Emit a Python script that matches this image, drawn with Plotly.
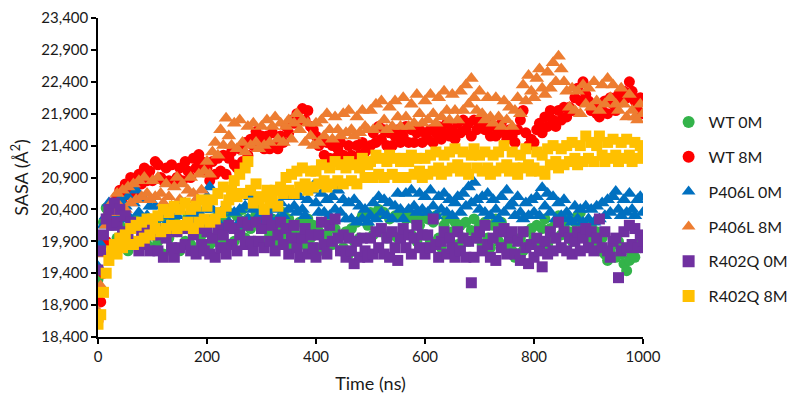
import plotly.graph_objects as go

time_ns = [i * 5 for i in range(201)]

wt_0m = [
    19300, 19850, 20200, 20420, 20350, 20150, 20300, 19950, 20150, 19850, 20050, 19750, 20100, 19900, 20250, 19800, 20050, 20200, 19850, 20100,
    19800, 20200, 19900, 20100, 19700, 20250, 19950, 19800, 20200, 20050, 19750, 20150, 19900, 20300, 19850, 20050, 19750, 20150, 20000, 19800,
    20050, 19850, 20250, 19900, 20300, 19950, 20200, 19850, 20350, 20100, 19900, 20300, 20050, 20400, 19950, 20250, 20100, 19900, 20350, 20400,
    20150, 19900, 20350, 20000, 20250, 19850, 20150, 19950, 20350, 20050, 20250, 19850, 20100, 19800, 20200, 20000, 19850, 20250, 19950, 20150,
    19800, 20050, 20200, 19750, 20000, 20200, 19850, 20100, 19950, 19750, 19800, 20050, 19700, 20100, 19900, 20200, 19950, 20300, 20350, 20150,
    20350, 20000, 20300, 20400, 20050, 20350, 19950, 20250, 20000, 20300, 19950, 20350, 20050, 20250, 20350, 20000, 20250, 19900, 20150, 20300,
    20000, 20250, 19900, 20200, 20300, 19950, 19800, 20150, 20250, 19950, 20050, 20200, 19850, 20150, 19950, 20200, 19900, 20070, 20250, 19950,
    20150, 19850, 20200, 19950, 19800, 20150, 20250, 19900, 20200, 20050, 19850, 20000, 19750, 19650, 19700, 19950, 19750, 20050, 19850, 20100,
    19950, 20150, 19800, 20100, 20250, 19850, 20100, 19950, 20200, 20300, 20000, 20150, 20250, 20050, 19900, 20200, 20300, 20350, 20150, 20050,
    19950, 20150, 19850, 20050, 19750, 19950, 19700, 19600, 19750, 19850, 19650, 19900, 19700, 19550, 19440, 19600, 19700, 19650, 19850, 19800,
    19900,
]

wt_8m = [
    18650, 18950, 19400, 19900, 20300, 20450, 20350, 20600, 20700, 20500, 20800, 20650, 20900, 20750, 20650, 20950, 20800, 21050, 20850, 21000,
    20850, 21150, 21100, 20900, 20850, 21050, 20850, 21100, 20800, 20900, 21050, 20850, 21150, 21000, 20900, 21200, 21050, 21260, 21150, 21000,
    21050, 20850, 21150, 20950, 21200, 21000, 21250, 20950, 21200, 21300, 21100, 21050, 21350, 21150, 21450, 21250, 21500, 21400, 21620, 21450,
    21550, 21350, 21550, 21350, 21600, 21400, 21350, 21550, 21450, 21700, 21600, 21800, 21750, 21900, 21800, 21980, 21800, 21950, 21700, 21650,
    21550, 21400, 21500, 21250, 21450, 21200, 21400, 21200, 21350, 21450, 21250, 21200, 21400, 21250, 21150, 21400, 21250, 21450, 21300, 21350,
    21400, 21600, 21450, 21700, 21500, 21650, 21400, 21600, 21400, 21550, 21650, 21450, 21550, 21700, 21450, 21650, 21450, 21600, 21650, 21450,
    21600, 21500, 21650, 21450, 21600, 21700, 21500, 21600, 21750, 21550, 21650, 21500, 21750, 21600, 21800, 21650, 21750, 21550, 21800, 21650,
    21700, 21800, 21650, 21750, 21550, 21700, 21550, 21650, 21750, 21600, 21500, 21650, 21550, 21450, 21650, 21800, 21950, 21600, 21400, 21500,
    21450, 21650, 21750, 21600, 21850, 21700, 21950, 21800, 21700, 21950, 21800, 22000, 21850, 22000, 21950, 22150, 22300, 22100, 22400, 22200,
    22100, 21950, 22050, 21900, 21850, 21950, 22100, 21900, 22150, 22050, 21950, 22200, 22100, 22250, 22150, 22400, 22250, 22100, 21950, 22150,
    21900,
]

p406l_0m = [
    19500, 19850, 20150, 20300, 20500, 20350, 20450, 20300, 20550, 20250, 20450, 20600, 20250, 20500, 20700, 20350, 20250, 20550, 20300, 20450,
    20200, 20450, 20250, 20100, 20350, 20150, 20300, 20200, 20050, 20300, 20150, 20500, 20200, 20100, 20300, 20100, 20250, 20350, 20150, 20400,
    20600, 20750, 20400, 20250, 20200, 20350, 20100, 20400, 20200, 20100, 20350, 20150, 20400, 20200, 20450, 20250, 20600, 20400, 20200, 20300,
    20250, 20150, 20350, 20450, 20200, 20400, 20250, 20500, 20300, 20600, 20400, 20650, 20450, 20350, 20600, 20400, 20300, 20550, 20700, 20770,
    20500, 20350, 20650, 20350, 20550, 20300, 20600, 20400, 20700, 20350, 20550, 20250, 20500, 20250, 20550, 20200, 20450, 20250, 20400, 20200,
    20300, 20500, 20250, 20600, 20350, 20550, 20300, 20500, 20250, 20450, 20650, 20400, 20250, 20650, 20400, 20700, 20450, 20350, 20650, 20400,
    20600, 20350, 20700, 20450, 20300, 20600, 20400, 20650, 20350, 20550, 20300, 20500, 20600, 20350, 20650, 20450, 20750, 20500, 20820, 20550,
    20400, 20600, 20350, 20650, 20300, 20550, 20400, 20250, 20600, 20350, 20700, 20450, 20500, 20300, 20600, 20350, 20250, 20500, 20300, 20550,
    20350, 20600, 20300, 20740, 20450, 20650, 20350, 20600, 20250, 20500, 20300, 20550, 20350, 20250, 20200, 20450, 20250, 20400, 20200, 20450,
    20250, 20400, 20200, 20450, 20250, 20500, 20300, 20550, 20350, 20600, 20680, 20400, 20300, 20550, 20350, 20650, 20400, 20300, 20550, 20600,
    20350,
]

p406l_8m = [
    18800, 19200, 19700, 20150, 20350, 20500, 20350, 20650, 20450, 20700, 20400, 20750, 20500, 20800, 20550, 20850, 20600, 20900, 20650, 20550,
    20850, 20600, 20900, 20650, 20500, 20800, 20600, 20450, 20750, 20900, 20550, 20800, 20500, 20700, 20900, 20650, 20550, 20950, 20700, 21000,
    21150, 20950, 21300, 21450, 21250, 21650, 21400, 21830, 21550, 21400, 21750, 21350, 21800, 21450, 21300, 21700, 21400, 21750, 21450, 21350,
    21700, 21400, 21800, 21450, 21700, 21850, 21500, 21750, 21450, 21700, 21800, 21500, 21750, 21900, 21650, 21800, 21450, 21750, 21550, 21400,
    21750, 21450, 21800, 21550, 21900, 21650, 21500, 21850, 21650, 21550, 21900, 21600, 21950, 21650, 21550, 21850, 21600, 21950, 21700, 21650,
    21950, 21650, 22050, 21700, 22100, 21800, 21650, 22000, 21700, 22100, 21850, 21700, 22150, 21850, 21700, 22050, 21750, 22200, 21900, 21750,
    22100, 21800, 22200, 21900, 21750, 22150, 21850, 22250, 21950, 21800, 22200, 21950, 21800, 22250, 21950, 22350, 22050, 22450, 22150, 21950,
    22250, 21900, 21800, 22150, 21850, 21750, 22150, 21850, 21700, 22100, 21800, 22000, 21700, 21950, 22150, 21900, 22350, 22100, 22500, 22250,
    22150, 22450, 22600, 22300, 22200, 22550, 22300, 22700, 22400, 22800, 22600, 22400, 22250, 22000, 22300, 21950, 22250, 21900, 22350, 22050,
    22300, 22000, 22400, 22100, 21950, 22350, 22050, 22450, 22150, 22350, 22050, 21950, 22300, 22050, 21850, 22200, 21950, 21850, 21800, 22050,
    21900,
]

r402q_0m = [
    19450, 19750, 20000, 20250, 20400, 20150, 20500, 20200, 20400, 20050, 20300, 19950, 20200, 19850, 20150, 19750, 20050, 19850, 20100, 19750,
    20000, 20100, 19750, 20000, 19650, 19950, 20100, 19800, 19650, 20050, 19800, 20100, 19850, 20150, 19750, 20000, 19700, 20100, 19850, 19750,
    20050, 19700, 19950, 19650, 20100, 19800, 20000, 19700, 20150, 19850, 20100, 19750, 20000, 20200, 19850, 20150, 19900, 19750, 20200, 19900,
    20100, 19800, 20250, 19900, 20150, 19750, 20000, 20200, 19850, 20100, 19700, 19950, 20150, 19800, 19650, 19950, 20100, 19700, 20000, 19800,
    19650, 20000, 20200, 19850, 19700, 20150, 19900, 20250, 19950, 19750, 20000, 19650, 19950, 19750, 19550, 19900, 19650, 19950, 19750, 19650,
    19950, 19700, 20050, 19800, 20100, 19700, 19950, 19650, 20050, 19800, 19600, 19950, 20100, 19800, 20000, 19700, 19950, 20150, 19800, 20000,
    19700, 20000, 19800, 20250, 19850, 19650, 19900, 20050, 19700, 19950, 19800, 19650, 20050, 19750, 19950, 19650, 19900, 19250, 19650, 19950,
    20050, 19750, 20150, 19850, 19650, 19950, 19600, 20050, 19800, 20100, 19700, 19950, 20050, 19700, 19900, 19600, 20050, 19800, 19550, 19850,
    19650, 19950, 19750, 19500, 19900, 19700, 20050, 19750, 19950, 20200, 19800, 20050, 19750, 19950, 19700, 19900, 20050, 19750, 19950, 20100,
    19800, 20050, 19750, 19950, 20250, 19800, 20050, 19750, 19650, 19900, 19950, 19330, 19750, 20050, 19800, 20150, 19850, 20100, 19800, 20000,
    19900,
]

r402q_8m = [
    18600, 18750, 19100, 19400, 19600, 19750, 19850, 19700, 19950, 19800, 20000, 19850, 20100, 19850, 20150, 19900, 20200, 19950, 20250, 20000,
    20250, 20100, 20300, 20050, 20400, 20100, 20350, 20150, 20450, 20100, 20400, 20150, 20500, 20200, 20400, 20100, 20450, 20200, 20550, 20250,
    20450, 20200, 20550, 20250, 20650, 20350, 20750, 20450, 20550, 20700, 20850, 20600, 20950, 20650, 21050, 21150, 20700, 20500, 20800, 20550,
    20600, 20400, 20700, 20500, 20550, 20700, 20450, 20750, 20650, 20900, 20700, 20950, 20650, 21000, 20750, 21050, 20800, 20700, 21000, 20750,
    21000, 20800, 21100, 20850, 20750, 21050, 20800, 21150, 20850, 21100, 20800, 21050, 21150, 20850, 21100, 20800, 21050, 21200, 20900, 21100,
    21150, 20900, 21250, 20950, 21200, 20900, 21150, 21250, 20950, 21200, 20900, 21150, 21200, 20900, 21150, 21250, 20950, 21200, 21000, 20900,
    21200, 20950, 21250, 21000, 21300, 21050, 20950, 21250, 21000, 21300, 21050, 21350, 21100, 21000, 21300, 21050, 20950, 21250, 21350, 21050,
    21250, 21000, 21300, 21050, 20950, 21250, 21000, 21300, 21050, 21400, 21100, 21000, 21300, 21050, 20950, 21250, 21050, 21350, 21100, 21000,
    21050, 21300, 21000, 21250, 20950, 21350, 21100, 21400, 21150, 21050, 21350, 21100, 21400, 21150, 21450, 21200, 21100, 21400, 21150, 21550,
    21200, 21450, 21150, 21400, 21550, 21250, 21150, 21450, 21200, 21500, 21250, 21150, 21450, 21200, 21500, 21250, 21150, 21450, 21200, 21400,
    21250,
]

series_names = ["WT 0M", "WT 8M", "P406L 0M", "P406L 8M", "R402Q 0M", "R402Q 8M"]
series_values = [wt_0m, wt_8m, p406l_0m, p406l_8m, r402q_0m, r402q_8m]
colors = ["#33B34A", "#FF0000", "#0070C0", "#ED7D31", "#7030A0", "#FFC000"]
symbols = ["circle", "circle", "triangle-up", "triangle-up", "square", "square"]
sizes = [11, 11, 13, 13, 11, 11]

fig = go.Figure()
for i, (name, vals) in enumerate(zip(series_names, series_values)):
    fig.add_trace(go.Scatter(
        x=time_ns, y=vals, mode="markers", name=name, legendgroup=name,
        marker=dict(color=colors[i], symbol=symbols[i], size=sizes[i], line=dict(width=0)),
    ))

font_family = "Lato, Liberation Sans, sans-serif"
fig.update_layout(
    width=787, height=400,
    margin=dict(l=90, r=152, t=10, b=71, autoexpand=False),
    paper_bgcolor="white", plot_bgcolor="white",
    font=dict(family=font_family, color="#1a1a1a", size=15),
    showlegend=True,
    legend=dict(
        x=1.047, y=0.727, xanchor="left", yanchor="top",
        font=dict(size=16, family=font_family, color="#1a1a1a"),
        tracegroupgap=11, itemsizing="constant", bgcolor="rgba(0,0,0,0)",
    ),
)
fig.update_xaxes(
    range=[0, 1000], tickvals=[0, 200, 400, 600, 800, 1000],
    showgrid=False, zeroline=False, showline=True, linecolor="#000", linewidth=1.5,
    ticks="outside", ticklen=5, tickcolor="#000", tickwidth=1.5,
    tickfont=dict(size=15), ticklabeloverflow="allow",
    title=dict(text="Time (ns)", font=dict(size=18), standoff=14),
)
fig.update_yaxes(
    range=[18400, 23400], dtick=500, tick0=18400, tickformat=",",
    showgrid=False, zeroline=False, showline=True, linecolor="#000", linewidth=1.5,
    ticks="outside", ticklen=5, tickcolor="#000", tickwidth=1.5,
    tickfont=dict(size=15), ticklabeloverflow="allow",
    title=dict(text="SASA (Å<sup>2</sup>)", font=dict(size=18), standoff=8),
)

fig.write_html("out.html")
